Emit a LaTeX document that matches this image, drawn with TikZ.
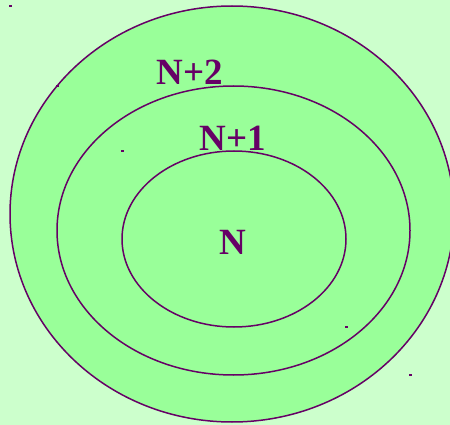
\documentclass[tikz,border=0pt]{standalone}
\usepackage{fontspec}
\setmainfont{Liberation Serif}
\usepackage{xcolor}
\usepackage{tikz}
\usetikzlibrary{positioning}
\definecolor{bgpale}{HTML}{CCFFCC}
\definecolor{ringfill}{HTML}{99FF99}
\definecolor{ringline}{HTML}{660066}

\begin{document}
\begin{tikzpicture}[
  x=1pt, y=-1pt,
  ring/.style={draw=ringline, fill=ringfill, line width=1.5pt},
  lbl/.style={text=ringline, font=\fontsize{37}{39}\selectfont\bfseries, inner sep=0pt, anchor=base},
  tick/.style={fill=ringline},
]

% Background
\fill[bgpale] (0,0) rectangle (450,425);
\useasboundingbox (0,0) rectangle (450,425);
\clip (0,0) rectangle (450,425);

% Rings
\draw[ring] (232,214) ellipse [x radius=222, y radius=208];
\draw[ring] (233.5,230.5) ellipse [x radius=176.5, y radius=144.5];
\draw[ring] (234,239) ellipse [x radius=112, y radius=88];

% Small marks
\fill[tick] (9,5) rectangle (12,7);
\fill[tick] (56,85) rectangle (59,87);
\fill[tick] (121,150) rectangle (124,152);
\fill[tick] (345,326) rectangle (348,328);
\fill[tick] (409,374) rectangle (412,376);

% Labels
\node[lbl] (ntwo) at (190,85) {N+2};
\node[lbl] (none) at (233,150) {N+1};
\node[lbl] (n) at (233,254) {N};

\end{tikzpicture}
\end{document}
